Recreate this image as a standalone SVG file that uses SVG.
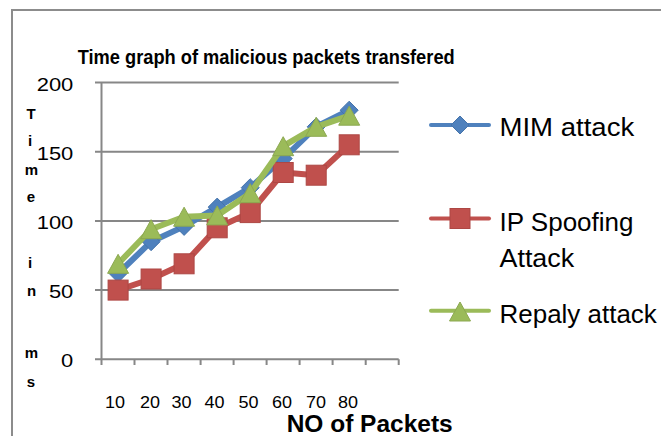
<svg xmlns="http://www.w3.org/2000/svg" xmlns:xlink="http://www.w3.org/1999/xlink" width="661" height="436" viewBox="0 0 661 436">
  <style>
    .frame { fill: none; stroke: #8c8c8c; stroke-width: 2; }
    .grid { stroke: #878787; stroke-width: 2; fill: none; }
    .t { font-family: "Liberation Sans", Arial, sans-serif; fill: #000; }
    .b { font-weight: bold; }
    .ylab { font-size: 19px; }
    .xlab { font-size: 16px; }
    .leg { font-size: 26px; }
    .vt { font-size: 15px; font-weight: bold; text-anchor: middle; }
    .mim { stroke: #4F81BD; fill: none; stroke-width: 6; stroke-linejoin: round; stroke-linecap: round; }
    .ip { stroke: #C0504D; fill: none; stroke-width: 6; stroke-linejoin: round; stroke-linecap: round; }
    .rep { stroke: #9BBB59; fill: none; stroke-width: 6; stroke-linejoin: round; stroke-linecap: round; }
    .legline { stroke-width: 4; }
  </style>
  <defs>
    <path id="diamond" d="M0,-9 L9,0 L0,9 L-9,0 Z" fill="#4F81BD" stroke="#4674ab" stroke-width="1"/>
    <rect id="square" x="-10" y="-10" width="20" height="20" fill="#C0504D" stroke="#ad4744" stroke-width="1"/>
    <path id="triangle" d="M0,-9.5 L10.5,9.5 L-10.5,9.5 Z" fill="#9BBB59" stroke="#8ca851" stroke-width="1"/>
  </defs>

  <rect width="661" height="436" fill="#fff"/>
  <!-- chart frame -->
  <path class="frame" d="M12,436 V10 H661"/>

  <!-- title -->
  <text class="t b" x="77.7" y="64" font-size="21" textLength="377" lengthAdjust="spacingAndGlyphs">Time graph of malicious packets transfered</text>

  <!-- axes and gridlines -->
  <g id="axes">
    <path class="grid" d="M95,82.5 H398.7 M95,151.7 H398.7 M95,220.9 H398.7 M95,290.1 H398.7 M95,359.3 H398.7"/>
    <path class="grid" d="M101.5,82.5 V365"/>
    <path class="grid" d="M134.5,359.3 V365 M167.5,359.3 V365 M200.6,359.3 V365 M233.6,359.3 V365 M266.6,359.3 V365 M299.6,359.3 V365 M332.6,359.3 V365 M365.7,359.3 V365 M398.7,359.3 V365"/>
  </g>

  <!-- value axis labels -->
  <g id="y-labels" class="t ylab">
    <text x="36.7" y="90.5" textLength="36.6" lengthAdjust="spacingAndGlyphs">200</text>
    <text x="36.7" y="159.7" textLength="36.6" lengthAdjust="spacingAndGlyphs">150</text>
    <text x="36.7" y="228.9" textLength="36.6" lengthAdjust="spacingAndGlyphs">100</text>
    <text x="48.9" y="298.1" textLength="24.4" lengthAdjust="spacingAndGlyphs">50</text>
    <text x="61.1" y="367.3" textLength="12.2" lengthAdjust="spacingAndGlyphs">0</text>
  </g>

  <!-- value axis title, stacked letters -->
  <g id="y-title" class="t vt">
    <text x="31" y="118.5">T</text>
    <text x="30" y="146">i</text>
    <text x="31.5" y="175">m</text>
    <text x="31" y="202">e</text>
    <text x="30" y="268">i</text>
    <text x="31.5" y="295.5">n</text>
    <text x="31.5" y="358">m</text>
    <text x="31" y="386.5">s</text>
  </g>

  <!-- category labels -->
  <g id="x-labels" class="t xlab">
    <text x="105" y="407.5" textLength="20" lengthAdjust="spacingAndGlyphs">10</text>
    <text x="140" y="407.5" textLength="20" lengthAdjust="spacingAndGlyphs">20</text>
    <text x="171.5" y="407.5" textLength="20" lengthAdjust="spacingAndGlyphs">30</text>
    <text x="204.5" y="407.5" textLength="20" lengthAdjust="spacingAndGlyphs">40</text>
    <text x="238.5" y="407.5" textLength="20" lengthAdjust="spacingAndGlyphs">50</text>
    <text x="272" y="407.5" textLength="20" lengthAdjust="spacingAndGlyphs">60</text>
    <text x="306" y="407.5" textLength="20" lengthAdjust="spacingAndGlyphs">70</text>
    <text x="338" y="407.5" textLength="20" lengthAdjust="spacingAndGlyphs">80</text>
  </g>
  <text class="t b" x="286.7" y="431.5" font-size="23" textLength="166" lengthAdjust="spacingAndGlyphs">NO of Packets</text>

  <!-- data series -->
  <g id="series-mim">
    <polyline class="mim" points="118.1,273.5 151.1,241.7 184.1,226.4 217.2,207.1 250.2,187.7 283.2,158.6 316.2,126.8 349.2,110.2"/>
    <use xlink:href="#diamond" x="118.1" y="273.5"/>
    <use xlink:href="#diamond" x="151.1" y="241.7"/>
    <use xlink:href="#diamond" x="184.1" y="226.4"/>
    <use xlink:href="#diamond" x="217.2" y="207.1"/>
    <use xlink:href="#diamond" x="250.2" y="187.7"/>
    <use xlink:href="#diamond" x="283.2" y="158.6"/>
    <use xlink:href="#diamond" x="316.2" y="126.8"/>
    <use xlink:href="#diamond" x="349.2" y="110.2"/>
  </g>
  <g id="series-ip">
    <polyline class="ip" points="118.1,290.1 151.1,279.0 184.1,263.8 217.2,227.8 250.2,212.6 283.2,172.5 316.2,175.2 349.2,144.8"/>
    <use xlink:href="#square" x="118.1" y="290.1"/>
    <use xlink:href="#square" x="151.1" y="279.0"/>
    <use xlink:href="#square" x="184.1" y="263.8"/>
    <use xlink:href="#square" x="217.2" y="227.8"/>
    <use xlink:href="#square" x="250.2" y="212.6"/>
    <use xlink:href="#square" x="283.2" y="172.5"/>
    <use xlink:href="#square" x="316.2" y="175.2"/>
    <use xlink:href="#square" x="349.2" y="144.8"/>
  </g>
  <g id="series-replay">
    <polyline class="rep" points="118.1,263.8 151.1,229.2 184.1,216.7 217.2,215.4 250.2,193.2 283.2,146.2 316.2,126.8 349.2,115.7"/>
    <use xlink:href="#triangle" x="118.1" y="263.8"/>
    <use xlink:href="#triangle" x="151.1" y="229.2"/>
    <use xlink:href="#triangle" x="184.1" y="216.7"/>
    <use xlink:href="#triangle" x="217.2" y="215.4"/>
    <use xlink:href="#triangle" x="250.2" y="193.2"/>
    <use xlink:href="#triangle" x="283.2" y="146.2"/>
    <use xlink:href="#triangle" x="316.2" y="126.8"/>
    <use xlink:href="#triangle" x="349.2" y="115.7"/>
  </g>

  <!-- legend -->
  <g id="legend-mim">
    <line class="mim legline" x1="431" y1="125" x2="489" y2="125"/>
    <use xlink:href="#diamond" x="460" y="125"/>
    <text class="t leg" x="499.5" y="135.7" textLength="134.7" lengthAdjust="spacingAndGlyphs">MIM attack</text>
  </g>
  <g id="legend-ip">
    <line class="ip legline" x1="431" y1="218.5" x2="489" y2="218.5"/>
    <use xlink:href="#square" x="460" y="218.5"/>
    <text class="t leg" x="499.5" y="230.5" textLength="134" lengthAdjust="spacingAndGlyphs">IP Spoofing</text>
    <text class="t leg" x="499.5" y="266.5" textLength="74.7" lengthAdjust="spacingAndGlyphs">Attack</text>
  </g>
  <g id="legend-replay">
    <line class="rep legline" x1="431" y1="310.7" x2="489" y2="310.7"/>
    <use xlink:href="#triangle" x="460" y="311.5"/>
    <text class="t leg" x="499.5" y="323.3" textLength="157.3" lengthAdjust="spacingAndGlyphs">Repaly attack</text>
  </g>
</svg>
